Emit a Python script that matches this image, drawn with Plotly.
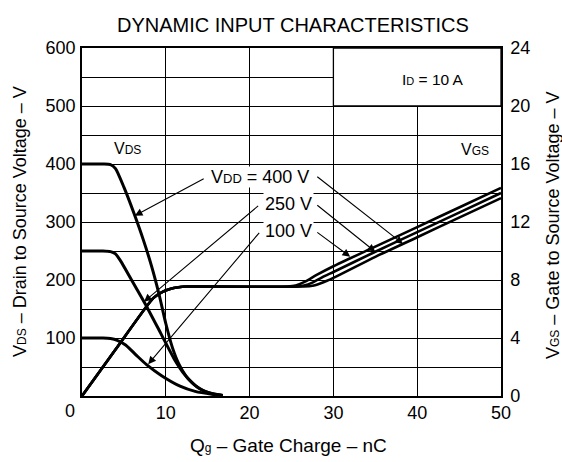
import numpy as np
import plotly.graph_objects as go

# ---------------- data ----------------
qg_vds400 = [0, 2.5, 3.4, 4.0, 5.0, 6.2, 7.3, 8.3, 9.2, 10.0, 10.8, 11.6, 12.6, 14.0, 15.5, 16.8]
vds400 = [400, 400, 399, 392, 360, 315, 270, 224, 175, 125, 83, 54, 31, 13, 4, 1]

qg_vds250 = [0, 2.5, 3.4, 4.0, 4.6, 5.8, 7.5, 9.4, 11.0, 12.3, 13.6, 15.0, 16.8]
vds250 = [250, 250, 249, 245, 233, 203, 160, 108, 64, 36, 17, 6, 1]

qg_vds100 = [0, 2.5, 3.4, 4.2, 5.2, 6.5, 7.7, 9.5, 11.7, 13.5, 15.5, 16.8]
vds100 = [100, 100, 99, 96, 88, 70, 54, 35, 17, 8, 3, 1]

qg_vgs100 = [0, 4, 8.5, 9.5, 10.5, 11.5, 12.5, 13.5, 24.5, 25.5, 26.5, 28, 30, 35, 40, 45, 50]
vgs100 = [0, 3.2, 6.75, 7.15, 7.38, 7.5, 7.55, 7.55, 7.55, 7.62, 7.85, 8.35, 8.95, 10.3, 11.65, 13.0, 14.35]

qg_vgs250 = [0, 4, 8.5, 9.5, 10.5, 11.5, 12.5, 13.5, 25.5, 26.5, 27.5, 29, 30, 35, 40, 45, 50]
vgs250 = [0, 3.2, 6.75, 7.15, 7.38, 7.5, 7.55, 7.55, 7.55, 7.62, 7.82, 8.28, 8.55, 9.95, 11.3, 12.65, 14.0]

qg_vgs400 = [0, 4, 8.5, 9.5, 10.5, 11.5, 12.5, 13.5, 26.5, 27.5, 28.5, 30, 35, 40, 45, 50]
vgs400 = [0, 3.2, 6.75, 7.15, 7.38, 7.5, 7.55, 7.55, 7.55, 7.6, 7.78, 8.15, 9.6, 10.95, 12.3, 13.65]

x_ticks = [10, 20, 30, 40, 50]
vds_ticks = [100, 200, 300, 400, 500, 600]
vgs_ticks = [0, 4, 8, 12, 16, 20, 24]

FONT = "Liberation Sans, Arial, sans-serif"
BLACK = "#000000"

# plot area in pixels
L, R, T, B = 82, 501, 48, 396
W, H = 562, 462


def px(xp):
    return (xp - L) / (R - L)


def py(yp):
    return (B - yp) / (B - T)


fig = go.Figure()

for q, v in [(qg_vds400, vds400), (qg_vds250, vds250), (qg_vds100, vds100)]:
    fig.add_trace(go.Scatter(x=q, y=v, mode="lines", yaxis="y",
                             line=dict(color=BLACK, width=3, shape="spline", smoothing=0.6),
                             showlegend=False, hoverinfo="skip"))

for q, v in [(qg_vgs100, vgs100), (qg_vgs250, vgs250), (qg_vgs400, vgs400)]:
    fig.add_trace(go.Scatter(x=q, y=v, mode="lines", yaxis="y2",
                             line=dict(color=BLACK, width=2.6, shape="spline", smoothing=0.6),
                             showlegend=False, hoverinfo="skip"))

ann = []


def sub(t, s=11):
    return f"<span style='font-size:{s}px'>{t}</span>"


def label(text, xp, yp, size, angle=0, bg=None, pad=1):
    d = dict(text=text, xref="paper", yref="paper", x=px(xp), y=py(yp),
             xanchor="center", yanchor="middle", showarrow=False, textangle=angle,
             font=dict(size=size, family=FONT, color=BLACK))
    if bg:
        d.update(bgcolor=bg, borderpad=pad)
    return d


# title
ann.append(label("DYNAMIC INPUT CHARACTERISTICS", 293, 25, 20))
# axis titles
ann.append(label("V" + sub("DS", 12) + " – Drain to Source Voltage – V", 20, 222, 18, angle=-90))
ann.append(label("V" + sub("GS", 12) + " – Gate to Source Voltage – V", 553, 225, 18, angle=-90))
ann.append(label("Q" + sub("g", 12) + " – Gate Charge – nC", 288, 445, 19))
# corner "0"
ann.append(label("0", 70, 411, 18))

# in-plot labels
ann.append(label("V" + sub("DS", 12), 127, 148, 16))
ann.append(label("V" + sub("GS", 12), 475, 149, 16))
ann.append(label("I" + sub("D", 11) + " = 10 A", 433, 79, 15.5))

# arrows (tail in data coords, tip on curves)
arrows = [
    ((14.7, 376), (6.3, np.interp(6.3, qg_vds400, vds400))),
    ((27.9, 380), (38.3, 25 * np.interp(38.3, qg_vgs400, vgs400))),
    ((21.2, 330), (7.4, np.interp(7.4, qg_vds250, vds250))),
    ((27.9, 331), (35.0, 25 * np.interp(35.0, qg_vgs250, vgs250))),
    ((21.3, 284), (7.9, np.interp(7.9, qg_vds100, vds100) + 3)),
    ((27.9, 284), (32.0, 25 * np.interp(32.0, qg_vgs100, vgs100) + 3)),
]
for (tx, ty), (hx, hy) in arrows:
    ann.append(dict(text="", x=hx, y=hy, xref="x", yref="y", ax=tx, ay=ty, axref="x", ayref="y",
                    showarrow=True, arrowhead=2, arrowsize=1.4, arrowwidth=1.1, arrowcolor=BLACK,
                    standoff=0, startstandoff=0))

# VDD labels with white background
ann.append(label("V" + sub("DD", 13) + " = 400 V", 260, 177, 18, bg="white", pad=0))
ann.append(label("250 V", 288, 204, 18, bg="white", pad=1))
ann.append(label("100 V", 288, 231, 18, bg="white", pad=1))

shapes = [dict(type="rect", xref="x", yref="y", x0=30, x1=50, y0=500, y1=600,
               fillcolor="white", line=dict(color=BLACK, width=1.3), layer="above")]

fig.update_layout(
    width=W, height=H,
    margin=dict(l=L, r=W - R, t=T, b=H - B, pad=0),
    paper_bgcolor="white", plot_bgcolor="white",
    font=dict(family=FONT, size=18, color=BLACK),
    showlegend=False,
    annotations=ann,
    shapes=shapes,
    xaxis=dict(range=[0, 50], tickvals=x_ticks, ticktext=[str(v) for v in x_ticks],
               showgrid=True, gridcolor=BLACK, gridwidth=1.3, zeroline=False,
               showline=True, linecolor=BLACK, linewidth=1.5, mirror=True,
               ticks="", tickfont=dict(size=18, family=FONT, color=BLACK), ticklabelstandoff=0),
    yaxis=dict(range=[0, 600], tickvals=vds_ticks, ticktext=[str(v) for v in vds_ticks],
               showgrid=True, gridcolor=BLACK, gridwidth=1.3, zeroline=False,
               minor=dict(dtick=50, showgrid=True, gridcolor=BLACK, gridwidth=1.3),
               showline=True, linecolor=BLACK, linewidth=1.5, mirror=True,
               ticks="", tickfont=dict(size=18, family=FONT, color=BLACK), ticklabelstandoff=1),
    yaxis2=dict(range=[0, 24], tickvals=vgs_ticks, ticktext=[str(v) for v in vgs_ticks],
                overlaying="y", side="right", showgrid=False, zeroline=False,
                showline=True, linecolor=BLACK, linewidth=1.5,
                ticks="", tickfont=dict(size=18, family=FONT, color=BLACK), ticklabelstandoff=4),
)

fig.write_html("out.html", config={"displayModeBar": False},
               post_script="document.body.style.margin='0';document.body.style.padding='0';")
